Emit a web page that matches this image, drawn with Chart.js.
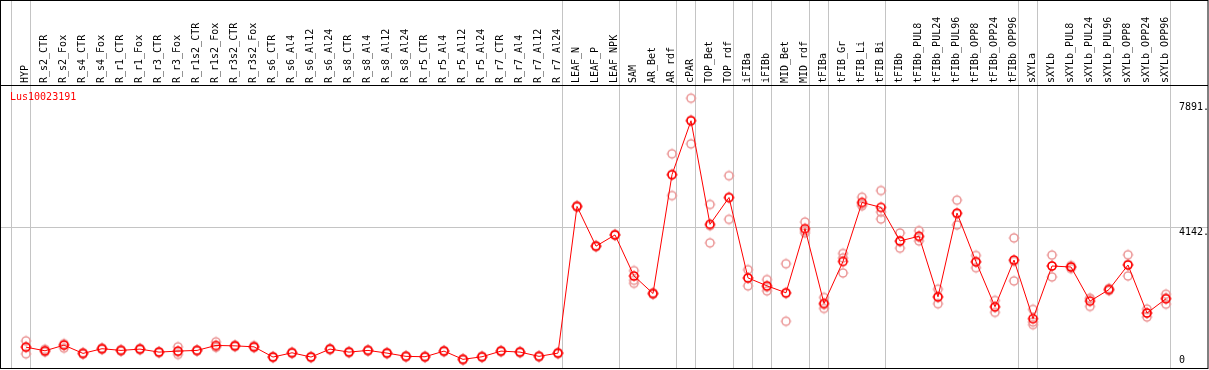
<!DOCTYPE html>
<html>
<head>
<meta charset="utf-8">
<script src="https://cdn.jsdelivr.net/npm/chart.js@4/dist/chart.umd.min.js"></script>
<style>
  body { margin: 0; background: #fff; }
  canvas { display: block; }
</style>
</head>
<body>
<canvas id="grafico" width="1209" height="370"></canvas>
<script>
const amostras = ['HYP', 'R_s2_CTR', 'R_s2_Fox', 'R_s4_CTR', 'R_s4_Fox', 'R_r1_CTR', 'R_r1_Fox',
  'R_r3_CTR', 'R_r3_Fox', 'R_r1s2_CTR', 'R_r1s2_Fox', 'R_r3s2_CTR', 'R_r3s2_Fox',
  'R_s6_CTR', 'R_s6_Al4', 'R_s6_Al12', 'R_s6_Al24', 'R_s8_CTR', 'R_s8_Al4', 'R_s8_Al12', 'R_s8_Al24',
  'R_r5_CTR', 'R_r5_Al4', 'R_r5_Al12', 'R_r5_Al24', 'R_r7_CTR', 'R_r7_Al4', 'R_r7_Al12', 'R_r7_Al24',
  'LEAF_N', 'LEAF_P', 'LEAF_NPK', 'SAM', 'AR_Bet', 'AR_rdf', 'cPAR', 'TOP_Bet', 'TOP_rdf',
  'iFIBa', 'iFIBb', 'MID_Bet', 'MID_rdf', 'tFIBa', 'tFIB_Gr', 'tFIB_Li', 'tFIB_Bi',
  'tFIBb', 'tFIBb_PUL8', 'tFIBb_PUL24', 'tFIBb_PUL96', 'tFIBb_OPP8', 'tFIBb_OPP24', 'tFIBb_OPP96',
  'sXYLa', 'sXYLb', 'sXYLb_PUL8', 'sXYLb_PUL24', 'sXYLb_PUL96', 'sXYLb_OPP8', 'sXYLb_OPP24', 'sXYLb_OPP96'];

// media das replicas
const medias = [537, 427, 597, 349, 490, 439, 478, 388, 418, 439, 588, 576, 546,
  239, 367, 239, 478, 388, 439, 358, 260, 248, 418, 170, 248, 418, 388, 260, 358,
  4769, 3574, 3912, 2678, 2150, 5724, 7345, 4231, 5037, 2619, 2380, 2171, 4100,
  1851, 3114, 4888, 4740, 3730, 3873, 2051, 4569, 3105, 1753, 3156,
  1394, 2977, 2947, 1920, 2269, 3007, 1562, 1992];

// replicas (pontos claros)
const replicaA = [726, 470, 640, 370, 510, 460, 500, 400, 546, 450, 696, 600, 580,
  255, 385, 255, 495, 405, 455, 375, 275, 265, 435, 185, 265, 435, 405, 275, 375,
  4790, 3590, 3930, 2837, 2170, 6351, 8023, 4828, 5694, 2866, 2568, 3046, 4300,
  2030, 3353, 5046, 5246, 3971, 4040, 2278, 4957, 3293, 1941, 3822,
  1672, 3305, 2990, 2000, 2300, 3314, 1681, 2129];
const replicaB = [337, 390, 508, 330, 470, 420, 460, 370, 319, 425, 537, 550, 520,
  225, 350, 225, 460, 370, 425, 340, 245, 232, 400, 155, 232, 400, 372, 245, 340,
  4750, 3560, 3900, 2457, 2130, 5097, 6650, 3673, 4380, 2380, 2230, 1314, 3971,
  1702, 2768, 4786, 4389, 3514, 3732, 1842, 4210, 2926, 1583, 2529,
  1215, 2649, 2900, 1762, 2240, 2678, 1442, 1830];
const replicaC = [548, 420, 600, 349, 490, 439, 478, 388, 400, 439, 540, 576, 546,
  239, 367, 239, 478, 388, 439, 358, 260, 248, 418, 170, 248, 418, 388, 260, 358,
  4769, 3574, 3912, 2547, 2150, 5724, 7362, 4192, 5037, 2611, 2342, 2153, 4029,
  1821, 3221, 4832, 4600, 3705, 3847, 2033, 4540, 3096, 1735, 3117,
  1295, 2977, 2950, 1998, 2267, 3029, 1563, 2017];

// indice da ultima amostra de cada grupo (-1 = borda esquerda)
const fimGrupos = [-1, 0, 28, 31, 34, 35, 37, 38, 39, 41, 42, 45, 52, 53, 60];
const rotulosY = [7891, 4142, 0];
const linhaReferencia = 4142;
const escalaMax = 8390;
const nomeGene = 'Lus10023191';

const fonte = '10px "DejaVu Sans Mono"';

function criaMarcador(cor) {
  const c = document.createElement('canvas');
  c.width = 14;
  c.height = 14;
  const g = c.getContext('2d');
  g.strokeStyle = cor;
  g.lineWidth = 1.6;
  g.beginPath();
  g.arc(7, 7, 4, 0, Math.PI * 2);
  g.stroke();
  g.lineWidth = 1;
  g.beginPath();
  g.moveTo(7, 1.5); g.lineTo(7, 2.5);
  g.moveTo(7, 11.5); g.lineTo(7, 12.5);
  g.moveTo(1.5, 7); g.lineTo(2.5, 7);
  g.moveTo(11.5, 7); g.lineTo(12.5, 7);
  g.stroke();
  return c;
}

const marcadorMedia = criaMarcador('#ff0000');
const marcadorReplica = criaMarcador('#ec9c9c');

const moldura = {
  id: 'moldura',
  beforeDraw(chart) {
    const ctx = chart.ctx;
    ctx.save();
    ctx.fillStyle = '#fff';
    ctx.fillRect(0, 0, chart.width, chart.height);
    ctx.restore();
  },
  beforeDatasetsDraw(chart) {
    const { ctx, scales: { x, y } } = chart;
    ctx.save();
    ctx.strokeStyle = '#c4c4c4';
    ctx.lineWidth = 1;
    ctx.beginPath();
    fimGrupos.forEach(i => {
      const px = Math.floor(x.getPixelForValue(i) + 4.5) + 0.5;
      ctx.moveTo(px, 0);
      ctx.lineTo(px, 369);
    });
    const py = Math.floor(y.getPixelForValue(linhaReferencia)) + 0.5;
    ctx.moveTo(0, py);
    ctx.lineTo(1208, py);
    ctx.stroke();
    ctx.restore();
  },
  afterDraw(chart) {
    const { ctx, scales: { y } } = chart;
    ctx.save();
    ctx.strokeStyle = '#000';
    ctx.lineWidth = 1;
    ctx.strokeRect(0.5, 0.5, 1207.5, 368);
    ctx.beginPath();
    ctx.moveTo(0, 85.5);
    ctx.lineTo(1208, 85.5);
    ctx.stroke();

    ctx.font = fonte;
    ctx.textAlign = 'left';
    ctx.fillStyle = '#ff0000';
    ctx.textBaseline = 'top';
    ctx.fillText(nomeGene, 10, 92);

    ctx.fillStyle = '#000';
    rotulosY.forEach(v => {
      const py = y.getPixelForValue(v);
      if (v === 0) {
        ctx.textBaseline = 'bottom';
        ctx.fillText(String(v), 1179, py);
      } else {
        ctx.textBaseline = 'top';
        ctx.fillText(v + '.', 1179, py);
      }
    });
    ctx.restore();
  }
};

const ctxGrafico = document.getElementById('grafico').getContext('2d');
new Chart(ctxGrafico, {
  type: 'line',
  data: {
    labels: amostras,
    datasets: [
      {
        label: 'media',
        data: medias,
        borderColor: '#ff0000',
        borderWidth: 1,
        pointStyle: marcadorMedia,
        clip: false
      },
      {
        label: 'replica A',
        data: replicaA,
        showLine: false,
        pointStyle: marcadorReplica,
        clip: false
      },
      {
        label: 'replica B',
        data: replicaB,
        showLine: false,
        pointStyle: marcadorReplica,
        clip: false
      },
      {
        label: 'replica C',
        data: replicaC,
        showLine: false,
        pointStyle: marcadorReplica,
        clip: false
      }
    ]
  },
  options: {
    responsive: false,
    animation: false,
    layout: { padding: { left: 16.5, right: 33.5, top: 0, bottom: 3 } },
    plugins: {
      legend: { display: false },
      tooltip: { enabled: false }
    },
    scales: {
      x: {
        position: 'top',
        offset: true,
        grid: { display: false, drawTicks: false },
        border: { display: false },
        ticks: {
          autoSkip: false,
          minRotation: 90,
          maxRotation: 90,
          padding: 3,
          labelOffset: 11,
          color: '#000',
          font: { family: 'DejaVu Sans Mono', size: 10 }
        },
        afterFit(escala) { escala.height = 86; }
      },
      y: {
        display: false,
        min: 0,
        max: escalaMax
      }
    }
  },
  plugins: [moldura]
});
</script>
</body>
</html>
